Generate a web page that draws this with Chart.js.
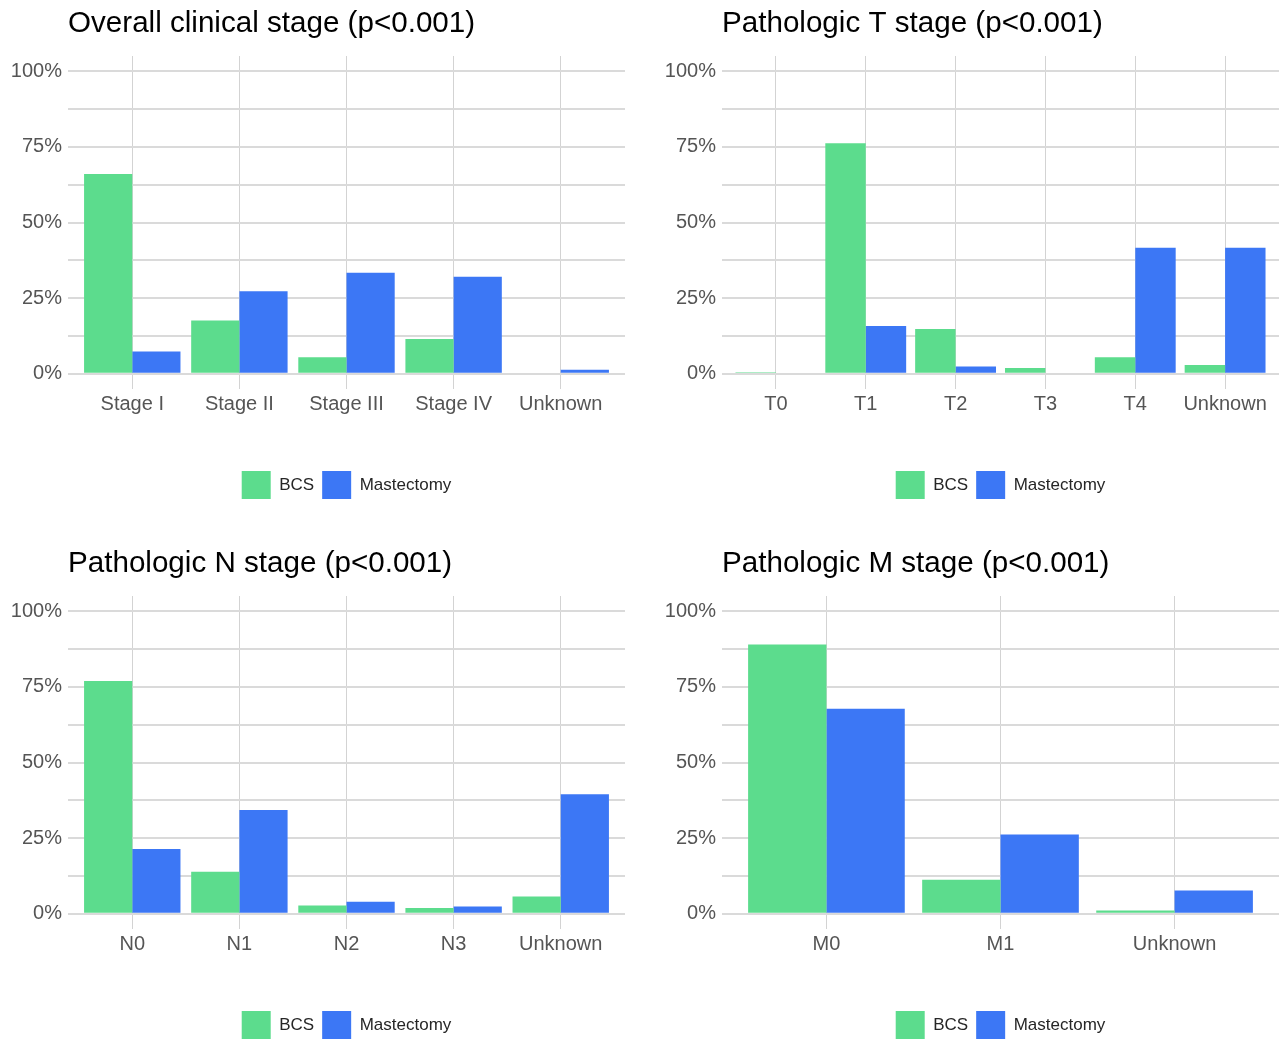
<!DOCTYPE html>
<html>
<head>
<meta charset="utf-8">
<title>Stage distribution by surgery type</title>
<script src="https://cdn.jsdelivr.net/npm/chart.js@4.4.1/dist/chart.umd.min.js"></script>
<style>
  html, body { margin: 0; padding: 0; background: #ffffff; overflow: hidden; }
  body { width: 1279px; height: 1039px; position: relative; }
  canvas.panel { position: absolute; }
</style>
</head>
<body>
<canvas id="overall" class="panel" style="left:0px;top:0px" width="625" height="510"></canvas>
<canvas id="tstage" class="panel" style="left:640px;top:0px" width="639" height="510"></canvas>
<canvas id="nstage" class="panel" style="left:0px;top:540px" width="625" height="510"></canvas>
<canvas id="mstage" class="panel" style="left:640px;top:540px" width="639" height="510"></canvas>

<script>
// Series names shown in every legend
const seriesNames = ['BCS', 'Mastectomy'];

// Overall clinical stage (percent of each group)
const overallCats = ['Stage I', 'Stage II', 'Stage III', 'Stage IV', 'Unknown'];
const overallBCS  = [66.0, 17.6, 5.5, 11.5, 0];
const overallMast = [7.4, 27.3, 33.4, 32.1, 1.4];

// Pathologic T stage
const tCats = ['T0', 'T1', 'T2', 'T3', 'T4', 'Unknown'];
const tBCS  = [0.5, 76.2, 14.8, 1.9, 5.5, 2.9];
const tMast = [0, 15.8, 2.4, 0, 41.7, 41.7];

// Pathologic N stage
const nCats = ['N0', 'N1', 'N2', 'N3', 'Unknown'];
const nBCS  = [76.9, 13.9, 2.8, 1.9, 5.7];
const nMast = [21.4, 34.3, 4.0, 2.4, 39.5];

// Pathologic M stage
const mCats = ['M0', 'M1', 'Unknown'];
const mBCS  = [89.0, 11.3, 1.1];
const mMast = [67.8, 26.2, 7.7];

// Percent axis: labelled every 25%, with unlabelled lines half-way between
const yTickValues = [0, 12.5, 25, 37.5, 50, 62.5, 75, 87.5, 100];
const yLabelStep = 25;

const FONT = '"Liberation Sans", Arial, Helvetica, sans-serif';
const COLOR_BCS = '#5cdc8d';
const COLOR_MAST = '#3c77f5';

function drawPanel(canvasId, titleText, cats, bcs, mast, axisWidth) {
  const toPoints = vals => vals.map((v, i) => ({ x: i, y: v }));
  const barStyle = { borderWidth: 0, categoryPercentage: 0.9, barPercentage: 1.0 };

  new Chart(document.getElementById(canvasId), {
    type: 'bar',
    data: {
      datasets: [
        Object.assign({ label: seriesNames[0], data: toPoints(bcs), backgroundColor: COLOR_BCS }, barStyle),
        Object.assign({ label: seriesNames[1], data: toPoints(mast), backgroundColor: COLOR_MAST }, barStyle)
      ]
    },
    options: {
      responsive: false,
      animation: false,
      devicePixelRatio: 1,
      events: [],
      layout: { padding: { left: 0, right: 0, top: 0, bottom: 1 } },
      scales: {
        x: {
          type: 'linear',
          bounds: 'data',
          offset: false,
          min: -0.6,
          max: cats.length - 0.4,
          afterBuildTicks: axis => { axis.ticks = cats.map((c, i) => ({ value: i })); },
          afterFit: axis => { axis.height = 74; },
          grid: { offset: false, color: '#d3d3d3', lineWidth: 1, drawTicks: false },
          border: { display: false },
          ticks: {
            autoSkip: false, maxRotation: 0, padding: 3,
            color: '#555555',
            font: { family: FONT, size: 20 },
            callback: v => cats[v]
          }
        },
        y: {
          type: 'linear',
          bounds: 'data',
          min: -5,
          max: 105,
          afterBuildTicks: axis => { axis.ticks = yTickValues.map(v => ({ value: v })); },
          afterFit: axis => { axis.width = axisWidth; },
          grid: { color: '#dadada', lineWidth: 2, drawTicks: false },
          border: { display: false },
          ticks: {
            autoSkip: false, padding: 6,
            color: '#555555',
            font: { family: FONT, size: 20 },
            callback: v => (v % yLabelStep === 0 ? v + '%' : '')
          }
        }
      },
      plugins: {
        title: {
          display: true,
          text: titleText,
          align: 'start',
          fullSize: false,
          color: '#000000',
          font: { family: FONT, size: 29.6, weight: 'normal' },
          padding: { top: 6, bottom: 14.5 }
        },
        legend: {
          display: true,
          position: 'bottom',
          fullSize: false,
          labels: {
            boxWidth: 29, boxHeight: 28, padding: 8,
            color: '#262626',
            font: { family: FONT, size: 17 }
          }
        },
        tooltip: { enabled: false }
      }
    }
  });
}

drawPanel('overall', 'Overall clinical stage (p<0.001)', overallCats, overallBCS, overallMast, 68);
drawPanel('tstage', 'Pathologic T stage (p<0.001)', tCats, tBCS, tMast, 82);
drawPanel('nstage', 'Pathologic N stage (p<0.001)', nCats, nBCS, nMast, 68);
drawPanel('mstage', 'Pathologic M stage (p<0.001)', mCats, mBCS, mMast, 82);
</script>
</body>
</html>
